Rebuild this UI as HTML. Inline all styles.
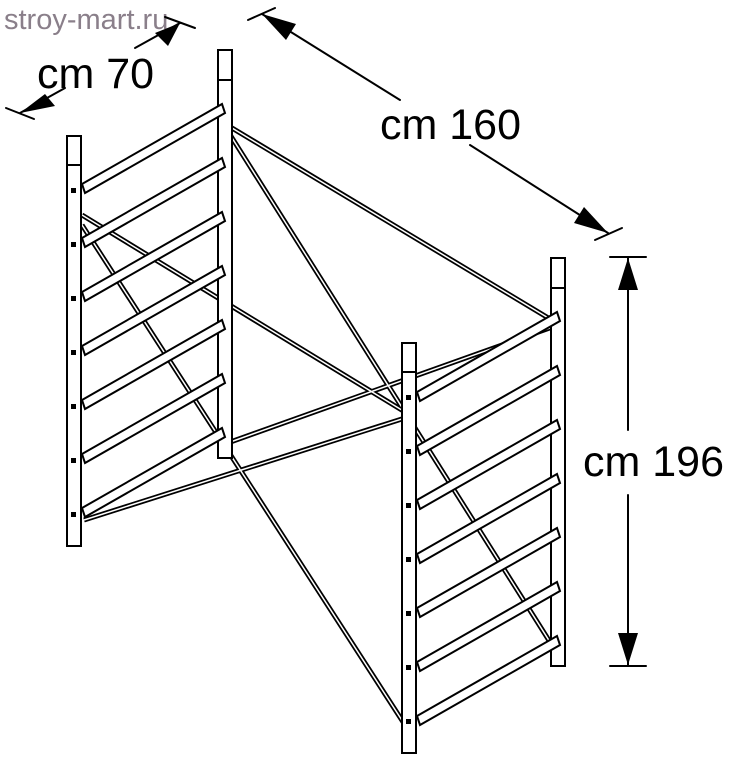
<!DOCTYPE html><html><head><style>body{margin:0;background:#fff}svg{display:block}</style></head><body>
<svg width="734" height="763" viewBox="0 0 734 763" xmlns="http://www.w3.org/2000/svg">
<rect width="734" height="763" fill="#fff"/>
<text x="4" y="29" font-family="Liberation Sans, sans-serif" font-size="29" fill="#8a7f8a">stroy-mart.ru</text>
<g font-family="Liberation Sans, sans-serif" font-size="43" fill="#000">
<text x="37" y="88">cm 70</text>
<text x="380" y="139">cm 160</text>
<text x="583" y="476">cm 196</text>
</g>
<g stroke="#000" stroke-width="2" fill="none" stroke-linecap="round">
<line x1="6" y1="108" x2="34" y2="119"/><line x1="165" y1="17" x2="195" y2="28"/>
<line x1="20" y1="113" x2="65" y2="88"/><line x1="135" y1="48" x2="180" y2="23"/>
<line x1="248" y1="20" x2="275" y2="8"/><line x1="595" y1="240" x2="622" y2="228"/>
<line x1="262" y1="14" x2="400" y2="100"/><line x1="470" y1="145" x2="608" y2="233"/>
<line x1="610" y1="257" x2="646" y2="257"/><line x1="610" y1="666" x2="646" y2="666"/>
<line x1="628" y1="258" x2="628" y2="430"/><line x1="628" y1="495" x2="628" y2="665"/>
</g>
<g fill="#000">
<polygon points="20,113 45,94 55,106"/><polygon points="180,23 155,33 168,46"/>
<polygon points="262,14 296,24 286,40"/><polygon points="608,233 574,223 584,207"/>
<polygon points="628,258 618,290 638,290"/><polygon points="628,665 618,633 638,633"/>
</g>
<g stroke="#000" stroke-width="2" fill="#fff">
<g stroke-width="5"><line x1="222" y1="122" x2="560" y2="325"/>
<line x1="222" y1="122" x2="555" y2="650"/>
<line x1="82" y1="215" x2="405" y2="412"/>
<line x1="82" y1="225" x2="405" y2="725"/>
<line x1="84" y1="520" x2="405" y2="418"/>
<line x1="222" y1="445" x2="558" y2="325"/></g>
<g stroke="#fff" stroke-width="1.5"><line x1="222" y1="122" x2="560" y2="325"/>
<line x1="222" y1="122" x2="555" y2="650"/>
<line x1="82" y1="215" x2="405" y2="412"/>
<line x1="82" y1="225" x2="405" y2="725"/>
<line x1="84" y1="520" x2="405" y2="418"/>
<line x1="222" y1="445" x2="558" y2="325"/></g>
<rect x="218" y="50" width="14" height="408"/>
<line x1="218" y1="80" x2="232" y2="80"/>
<g id="lr"><path d="M82,184 L222,104 L225,113 L85,193 Z"/></g>
<use href="#lr" transform="translate(0,54)"/><use href="#lr" transform="translate(0,108)"/>
<use href="#lr" transform="translate(0,162)"/><use href="#lr" transform="translate(0,216)"/>
<use href="#lr" transform="translate(0,270)"/><use href="#lr" transform="translate(0,324)"/>
<rect x="67" y="136" width="14" height="410"/>
<line x1="67" y1="165" x2="81" y2="165"/>
<rect x="551" y="258" width="14" height="408"/>
<line x1="551" y1="288" x2="565" y2="288"/>
<g id="rr"><path d="M417,392 L557,312 L560,321 L420,401 Z"/></g>
<use href="#rr" transform="translate(0,54)"/><use href="#rr" transform="translate(0,108)"/>
<use href="#rr" transform="translate(0,162)"/><use href="#rr" transform="translate(0,216)"/>
<use href="#rr" transform="translate(0,270)"/><use href="#rr" transform="translate(0,324)"/>
<rect x="402" y="343" width="14" height="410"/>
<line x1="402" y1="372" x2="416" y2="372"/>
</g>
<g fill="#000">
<rect x="71" y="188" width="5" height="5"/><rect x="71" y="242" width="5" height="5"/><rect x="71" y="296" width="5" height="5"/><rect x="71" y="350" width="5" height="5"/><rect x="71" y="404" width="5" height="5"/><rect x="71" y="458" width="5" height="5"/><rect x="71" y="512" width="5" height="5"/>
<rect x="406" y="395" width="5" height="5"/><rect x="406" y="449" width="5" height="5"/><rect x="406" y="503" width="5" height="5"/><rect x="406" y="557" width="5" height="5"/><rect x="406" y="611" width="5" height="5"/><rect x="406" y="665" width="5" height="5"/><rect x="406" y="719" width="5" height="5"/>
</g>
</svg>
</body></html>
